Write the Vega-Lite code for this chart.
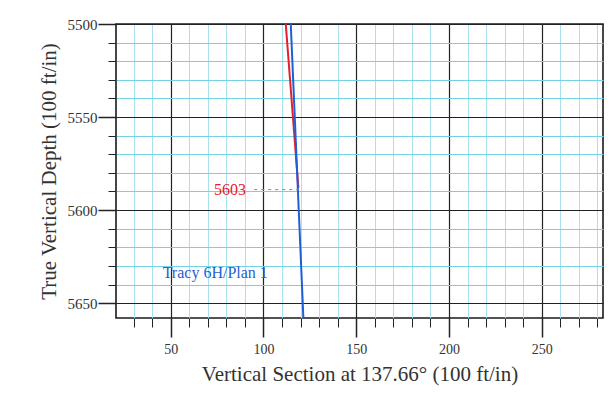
{
  "$schema": "https://vega.github.io/schema/vega-lite/v6.json",
  "width": 487,
  "height": 294,
  "autosize": "none",
  "padding": {"left": 116, "top": 24, "right": 6, "bottom": 91},
  "background": "white",
  "config": {
    "view": {"stroke": "#1a1a1a", "strokeWidth": 1.6},
    "axis": {
      "labelFont": "Liberation Serif",
      "titleFont": "Liberation Serif",
      "labelColor": "#333333",
      "titleColor": "#333333",
      "titleFontWeight": "normal",
      "domain": false,
      "tickColor": "#222222"
    }
  },
  "data": {
    "values": [
      {"kind": "path", "series": "Actual", "vs": 112.0, "tvd": 5500},
      {"kind": "path", "series": "Actual", "vs": 118.8, "tvd": 5588},
      {"kind": "path", "series": "Plan", "vs": 114.7, "tvd": 5500},
      {"kind": "path", "series": "Plan", "vs": 121.5, "tvd": 5658},
      {"kind": "leader", "series": "Actual", "vs": 95, "tvd": 5589},
      {"kind": "leader", "series": "Actual", "vs": 118.6, "tvd": 5589},
      {"kind": "label", "series": "Actual", "vs": 82, "tvd": 5589, "text": "5603"},
      {"kind": "label", "series": "Plan", "vs": 74, "tvd": 5634, "text": "Tracy 6H/Plan 1"}
    ]
  },
  "layer": [
    {
      "transform": [{"filter": "datum.kind === 'path'"}],
      "mark": {"type": "line", "strokeWidth": 2, "clip": true},
      "encoding": {
        "x": {
          "field": "vs", "type": "quantitative",
          "scale": {"domain": [20.5, 283], "nice": false, "zero": false},
          "axis": {
            "orient": "bottom",
            "values": [30, 40, 60, 70, 80, 90, 110, 120, 130, 140, 160, 170, 180, 190, 210, 220, 230, 240, 260, 270, 280],
            "labels": false, "title": null, "tickSize": 9, "tickWidth": 1,
            "grid": true, "gridColor": "#a8e2ee", "gridWidth": 1
          }
        },
        "y": {
          "field": "tvd", "type": "quantitative",
          "scale": {"domain": [5500, 5658], "reverse": true, "nice": false, "zero": false},
          "axis": {
            "orient": "left",
            "values": [5510, 5520, 5530, 5540, 5560, 5570, 5580, 5590, 5610, 5620, 5630, 5640],
            "labels": false, "title": null, "tickSize": 8, "tickWidth": 1,
            "grid": true, "gridColor": "#74d0e4", "gridWidth": 1
          }
        },
        "color": {
          "field": "series", "type": "nominal",
          "scale": {"domain": ["Actual", "Plan"], "range": ["#e5202e", "#1f5fd6"]},
          "legend": null
        }
      }
    },
    {
      "transform": [{"filter": "datum.kind === 'leader'"}],
      "mark": {"type": "line", "strokeWidth": 1, "strokeDash": [3, 4], "color": "#888888"},
      "encoding": {
        "x": {
          "field": "vs", "type": "quantitative",
          "axis": {
            "orient": "bottom",
            "values": [50, 100, 150, 200, 250],
            "format": "d",
            "tickSize": 19, "tickWidth": 1.5,
            "labelFontSize": 14, "labelPadding": 5,
            "title": "Vertical Section at 137.66° (100 ft/in)",
            "titleFontSize": 21, "titlePadding": 7,
            "grid": true, "gridColor": "#222222", "gridWidth": 1.2
          }
        },
        "y": {
          "field": "tvd", "type": "quantitative",
          "axis": {
            "orient": "left",
            "values": [5500, 5550, 5600, 5650],
            "format": "d",
            "tickSize": 18, "tickWidth": 1.5,
            "labelFontSize": 15, "labelPadding": 1,
            "title": "True Vertical Depth (100 ft/in)",
            "titleFontSize": 21, "titlePadding": 8,
            "grid": true, "gridColor": "#222222", "gridWidth": 1.2
          }
        }
      }
    },
    {
      "transform": [{"filter": "datum.kind === 'label'"}],
      "mark": {"type": "text", "font": "Liberation Serif", "fontSize": 16},
      "encoding": {
        "x": {"field": "vs", "type": "quantitative", "axis": null},
        "y": {"field": "tvd", "type": "quantitative", "axis": null},
        "text": {"field": "text"},
        "color": {
          "field": "series", "type": "nominal",
          "scale": {"domain": ["Actual", "Plan"], "range": ["#e5202e", "#1f6fd0"]},
          "legend": null
        }
      }
    }
  ],
  "resolve": {"axis": {"x": "independent", "y": "independent"}}
}
